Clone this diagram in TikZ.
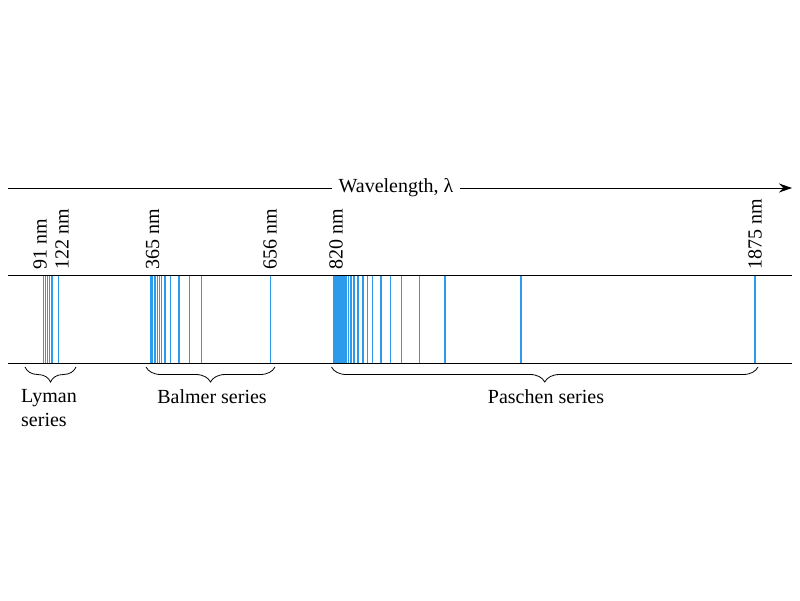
\documentclass[tikz,border=0pt]{standalone}
\usepackage{fontspec}
\setmainfont{Liberation Serif}
\usetikzlibrary{arrows.meta,decorations.pathreplacing}
\definecolor{lineblue}{RGB}{45,155,235}
\begin{document}
\begin{tikzpicture}[x=1pt,y=-1pt,
        specline/.style={color=lineblue, line width=1.2pt},
        tag/.style={rotate=90, anchor=west, inner sep=0pt,
            font=\fontsize{20}{24}\selectfont},
        seriesbrace/.style={decorate, line width=0.8pt,
            decoration={brace, mirror, amplitude=15pt}},
        serieslabel/.style={inner sep=0pt,
            font=\fontsize{20}{24}\selectfont}]
        \useasboundingbox (0,0) rectangle (800,600);
        %wavelength axis
        \node[serieslabel, fill=white, inner xsep=6pt, inner ysep=2pt]
            (wl) at (396,188) {Wavelength, λ};
        \coordinate (axstart) at (8,188);
        \coordinate (axend) at (792,188);
        \draw[line width=0.8pt] (axstart) -- (wl.west);
        \draw[line width=0.8pt, -{Stealth[length=13pt,width=9pt]}]
            (wl.east) -- (axend);
        %spectral lines
        \foreach \x in {43.5,45.5,47.5,49.5,52,58.5,
            151,152.7,154.3,155.7,157.3,159.3,161.7,165,170.7,179,189.3,201.3,270.3,
            334,335,336,337,338,339.5,341,342.5,344,346,348.5,351,354,358,
            363,367.5,372.5,381,390.5,401.5,419.5,445,521,755}
        \draw[specline] (\x,275) -- (\x,363);
        %spectrum borders
        \draw[line width=0.8pt] (8,275) -- (792,275);
        \draw[line width=0.8pt] (8,363) -- (792,363);
        %wavelength tags
        \node[tag] (t91) at (40,270) {91 nm};
        \node[tag] (t122) at (62,270) {122 nm};
        \node[tag] (t365) at (152.5,270) {365 nm};
        \node[tag] (t656) at (270,270) {656 nm};
        \node[tag] (t820) at (336,270) {820 nm};
        \node[tag] (t1875) at (755,270) {1875 nm};
        %braces
        \draw[seriesbrace] (25,367) -- (76,367);
        \draw[seriesbrace] (146,367) -- (275,367);
        \draw[seriesbrace] (331.5,367) -- (758,367);
        %series names
        \node[serieslabel, anchor=north west, align=left] (lyman) at (21,389)
            {Lyman\\series};
        \node[serieslabel] (balmer) at (212,397) {Balmer series};
        \node[serieslabel] (paschen) at (546,397) {Paschen series};
    \end{tikzpicture}
\end{document}
